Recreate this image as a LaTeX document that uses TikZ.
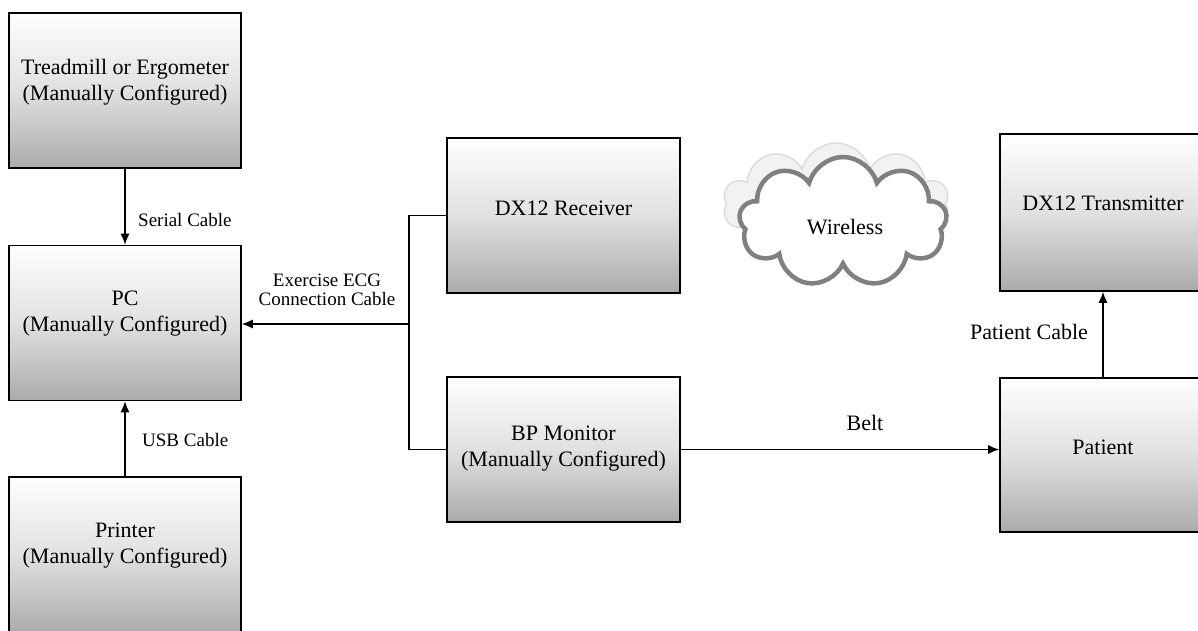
\documentclass[tikz,border=0pt]{standalone}
\usepackage{fontspec}
\setmainfont{Liberation Serif}
\usetikzlibrary{shapes.symbols,arrows.meta,positioning,calc}
\begin{document}
\begin{tikzpicture}[x=1pt,y=-1pt,
  box/.style={rectangle,draw=black,line width=1.6pt,inner sep=0pt,
    top color=white,bottom color=black!33,middle color=black!12},
  boxtext/.style={font=\fontsize{22}{26}\selectfont,align=center,inner sep=0pt},
  small/.style={font=\fontsize{19}{20}\selectfont,align=center,inner sep=0pt},
  conn/.style={line width=1.3pt,draw=black},
  arr/.style={conn,-{Latex[length=11pt,width=9pt]}}]
\clip (0,0) rectangle (1198,630);
\useasboundingbox (0,0) rectangle (1198,630);
% boxes
\node[box,minimum width=232pt,minimum height=155pt] (tread) at (125,90.5) {};
\node[box,minimum width=232pt,minimum height=155pt] (pc) at (125,323) {};
\node[box,minimum width=232pt,minimum height=156pt] (printer) at (125,555) {};
\node[box,minimum width=233pt,minimum height=155pt] (rec) at (563.5,215.5) {};
\node[box,minimum width=233pt,minimum height=145pt] (bp) at (563.5,449.5) {};
\node[box,minimum width=206pt,minimum height=157pt] (tx) at (1103,212.5) {};
\node[box,minimum width=206pt,minimum height=154pt] (pat) at (1103,455) {};
% box texts
\node[boxtext] (treadt) at ($(tread.center)+(0,-8)$) {Treadmill or Ergometer\\(Manually Configured)};
\node[boxtext] (pct) at ($(pc.center)+(0,-9)$) {PC\\(Manually Configured)};
\node[boxtext] (printert) at ($(printer.center)+(0,-9)$) {Printer\\(Manually Configured)};
\node[boxtext] (rect) at ($(rec.center)+(0,-7)$) {DX12 Receiver};
\node[boxtext] (bpt) at ($(bp.center)+(0,-1)$) {BP Monitor\\(Manually Configured)};
\node[boxtext] (txt) at ($(tx.center)+(0,-9)$) {DX12 Transmitter};
\node[boxtext] (patt) at ($(pat.center)+(0,-8)$) {Patient};
% cloud
\node[cloud,cloud puffs=10,aspect=1.7,minimum width=226pt,minimum height=122pt,
  draw=black!14,line width=1.5pt,fill=black!5] (ghost) at (836,204) {};
\node[cloud,cloud puffs=9,aspect=1.6,minimum width=208pt,minimum height=130pt,
  draw=black!50,line width=4.5pt,fill=white] (cloud) at (843,222) {};
\node[boxtext] (wl) at (845,227) {Wireless};
% connectors
\draw[arr] (tread.south) -- (pc.north);
\node[small,anchor=west] (serial) at (138,220) {Serial Cable};
\draw[arr] (printer.north) -- (pc.south);
\node[small,anchor=west] (usb) at (142,440) {USB Cable};
\coordinate (j) at (409,324);
\draw[conn] (rec.west) -- (rec.west -| j) -- (bp.west -| j) -- (bp.west);
\draw[arr] (j) -- (j -| pc.east);
\node[small,font=\fontsize{19}{19}\selectfont] (ecg) at (327,290) {Exercise ECG\\Connection Cable};
\draw[arr] (bp.east) -- (bp.east -| pat.west);
\node[boxtext] (belt) at (865,423) {Belt};
\draw[arr] (pat.north) -- (tx.south);
\node[boxtext] (pcable) at (1029,332) {Patient Cable};
\end{tikzpicture}
\end{document}
